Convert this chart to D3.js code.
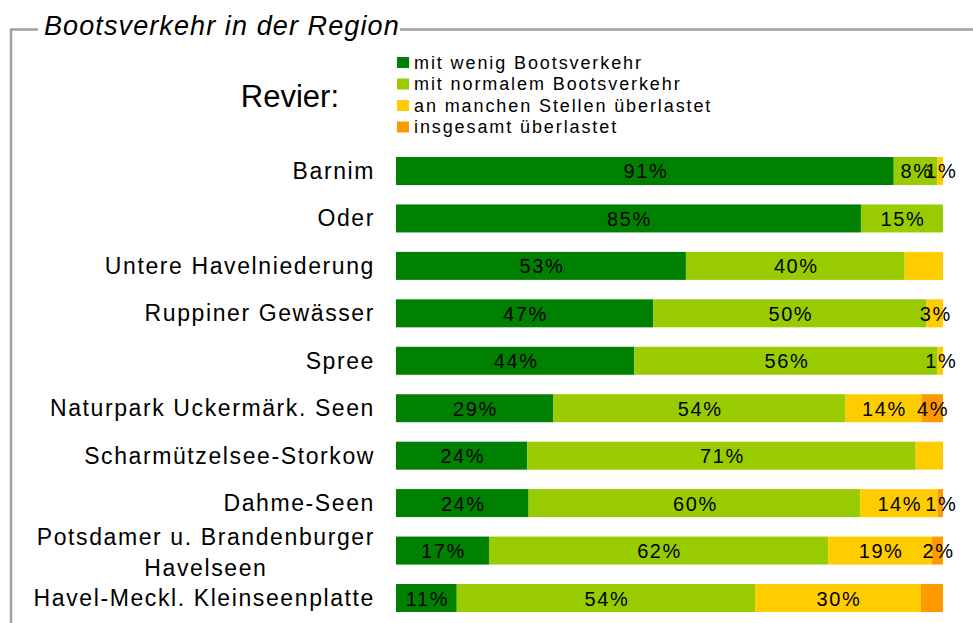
<!DOCTYPE html>
<html>
<head>
<meta charset="utf-8">
<script src="https://cdn.jsdelivr.net/npm/d3@7"></script>
<style>
  body { margin: 0; background: #fff; }
  svg { display: block; font-family: "Liberation Sans", Arial, sans-serif; }
</style>
</head>
<body>
<svg id="chart" width="973" height="623"></svg>
<script>
var reviere = ["Barnim", "Oder", "Untere Havelniederung", "Ruppiner Gewässer", "Spree",
  "Naturpark Uckermärk. Seen", "Scharmützelsee-Storkow", "Dahme-Seen",
  "Potsdamer u. Brandenburger|Havelseen", "Havel-Meckl. Kleinseenplatte"];
var serien = ["mit wenig Bootsverkehr", "mit normalem Bootsverkehr", "an manchen Stellen überlastet", "insgesamt überlastet"];
var wenig = [91, 85, 53, 47, 44, 29, 24, 24, 17, 11];
var normal = [8, 15, 40, 50, 56, 54, 71, 60, 62, 54];
var manche = [1, 0, 7, 3, 1, 14, 5, 14, 19, 30];
var insgesamt = [0, 0, 0, 0, 0, 4, 0, 1, 2, 4];
// labels the original chart leaves out: [row, series]
var ohneLabel = [[2, 2], [6, 2], [9, 3]];
var farben = ["#008000", "#99cc00", "#ffcc00", "#ff9900"];

var svg = d3.select("#chart");

// frame with title
svg.append("path")
  .attr("d", "M11,623 V29.5 H38 M400,29.5 H973")
  .attr("fill", "none")
  .attr("stroke", "#a0a0a0")
  .attr("stroke-width", 2.5);

svg.append("text")
  .attr("x", 44).attr("y", 35)
  .style("font-size", "27px").style("font-style", "italic")
  .style("letter-spacing", "1.1px")
  .attr("fill", "#000")
  .text("Bootsverkehr in der Region");

svg.append("text")
  .attr("x", 339).attr("y", 107)
  .attr("text-anchor", "end")
  .style("font-size", "31px")
  .attr("fill", "#000")
  .text("Revier:");

// legend
var legend = svg.append("g").attr("transform", "translate(397,57)");
serien.forEach(function (s, i) {
  legend.append("rect")
    .attr("x", 0).attr("y", i * 21.5)
    .attr("width", 12).attr("height", 11)
    .attr("fill", farben[i]);
  legend.append("text")
    .attr("x", 17).attr("y", i * 21.5 + 11.5)
    .style("font-size", "18px").style("letter-spacing", "1.9px")
    .attr("fill", "#000")
    .text(s);
});

var x = d3.scaleLinear().domain([0, 100]).range([396, 943]);
var y = d3.scaleBand().domain(reviere).range([157, 612]).paddingInner(0.41).paddingOuter(0);

var reihen = reviere.map(function (r, i) {
  var werte = [wenig[i], normal[i], manche[i], insgesamt[i]];
  var summe = d3.sum(werte);
  var start = 0;
  return werte.map(function (v, k) {
    var seg = { revier: r, row: i, k: k, wert: v, x0: start / summe * 100, x1: (start + v) / summe * 100 };
    start += v;
    return seg;
  });
});
var segmente = d3.merge(reihen).filter(function (d) { return d.wert > 0; });

svg.append("g").selectAll("rect")
  .data(segmente)
  .enter()
  .append("rect")
  .attr("x", function (d) { return x(d.x0); })
  .attr("y", function (d) { return y(d.revier); })
  .attr("width", function (d) { return x(d.x1) - x(d.x0); })
  .attr("height", y.bandwidth())
  .attr("fill", function (d) { return farben[d.k]; });

function versteckt(d) {
  return ohneLabel.some(function (o) { return o[0] == d.row && o[1] == d.k; });
}

svg.append("g").selectAll("text")
  .data(segmente.filter(function (d) { return !versteckt(d); }))
  .enter()
  .append("text")
  .attr("x", function (d) { return (x(d.x0) + x(d.x1)) / 2 + 1; })
  .attr("y", function (d) { return y(d.revier) + y.bandwidth() / 2 + 7.5; })
  .attr("text-anchor", "middle")
  .style("font-size", "20px").style("letter-spacing", "1.6px")
  .attr("fill", "#000")
  .text(function (d) { return d.wert + "%"; });

// category labels
var kat = svg.append("g");
reviere.forEach(function (r) {
  var zeilen = r.split("|");
  var mitte = y(r) + y.bandwidth() / 2;
  var t = kat.append("text")
    .attr("text-anchor", "end")
    .attr("x", 375)
    .attr("y", zeilen.length == 1 ? mitte + 8 : mitte - 5.5)
    .style("font-size", "23px").style("letter-spacing", "1.6px")
    .attr("fill", "#000")
    .text(zeilen[0]);
  if (zeilen.length > 1) {
    var w = t.node().getComputedTextLength();
    kat.append("text")
      .attr("text-anchor", "middle")
      .attr("x", 375 - w / 2)
      .attr("y", mitte + 25)
      .style("font-size", "23px").style("letter-spacing", "1.6px")
      .attr("fill", "#000")
      .text(zeilen[1]);
  }
});
</script>
</body>
</html>
